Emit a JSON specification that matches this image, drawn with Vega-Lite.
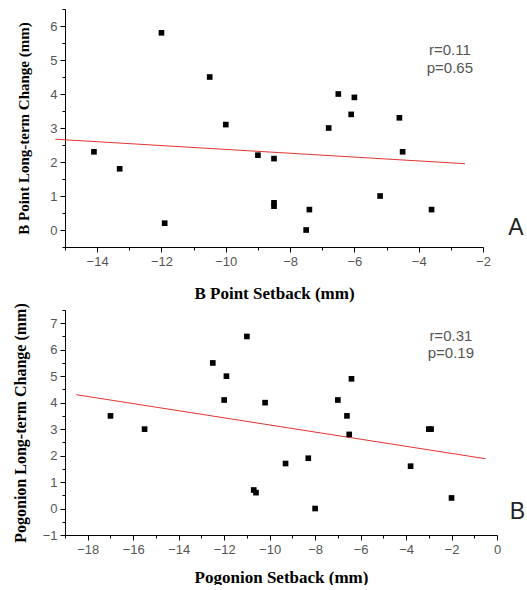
{
  "$schema": "https://vega.github.io/schema/vega-lite/v6.json",
  "padding": {"left": 12, "top": 3, "right": 0, "bottom": 0},
  "background": "white",
  "bounds": "flush",
  "spacing": 63,
  "config": {
    "view": {"stroke": null},
    "axis": {
      "grid": false,
      "domainColor": "black",
      "tickColor": "black",
      "labelColor": "#555555",
      "labelFont": "Liberation Sans",
      "labelFontSize": 13,
      "labelPadding": 3,
      "labelFlush": false,
      "titleFont": "Liberation Serif",
      "titleFontWeight": "bold",
      "titleColor": "black"
    }
  },
  "datasets": {
    "a": [
      {"setback": -14.1, "change": 2.3},
      {"setback": -13.3, "change": 1.8},
      {"setback": -12.0, "change": 5.8},
      {"setback": -11.9, "change": 0.2},
      {"setback": -10.5, "change": 4.5},
      {"setback": -10.0, "change": 3.1},
      {"setback": -9.0, "change": 2.2},
      {"setback": -8.5, "change": 2.1},
      {"setback": -8.5, "change": 0.8},
      {"setback": -8.5, "change": 0.7},
      {"setback": -7.5, "change": 0.0},
      {"setback": -7.4, "change": 0.6},
      {"setback": -6.8, "change": 3.0},
      {"setback": -6.5, "change": 4.0},
      {"setback": -6.1, "change": 3.4},
      {"setback": -6.0, "change": 3.9},
      {"setback": -5.2, "change": 1.0},
      {"setback": -4.6, "change": 3.3},
      {"setback": -4.5, "change": 2.3},
      {"setback": -3.6, "change": 0.6}
    ],
    "a_fit": [
      {"setback": -15.3, "change": 2.67},
      {"setback": -2.56, "change": 1.95}
    ],
    "b": [
      {"setback": -17.0, "change": 3.5},
      {"setback": -15.5, "change": 3.0},
      {"setback": -12.5, "change": 5.5},
      {"setback": -12.0, "change": 4.1},
      {"setback": -11.9, "change": 5.0},
      {"setback": -11.0, "change": 6.5},
      {"setback": -10.2, "change": 4.0},
      {"setback": -10.7, "change": 0.7},
      {"setback": -10.6, "change": 0.6},
      {"setback": -9.3, "change": 1.7},
      {"setback": -8.3, "change": 1.9},
      {"setback": -8.0, "change": 0.0},
      {"setback": -7.0, "change": 4.1},
      {"setback": -6.6, "change": 3.5},
      {"setback": -6.4, "change": 4.9},
      {"setback": -6.5, "change": 2.8},
      {"setback": -3.8, "change": 1.6},
      {"setback": -3.0, "change": 3.0},
      {"setback": -2.9, "change": 3.0},
      {"setback": -2.0, "change": 0.4}
    ],
    "b_fit": [
      {"setback": -18.5, "change": 4.3},
      {"setback": -0.5, "change": 1.88}
    ]
  },
  "vconcat": [
    {
      "width": 418,
      "height": 238,
      "layer": [
        {
          "data": {"name": "a_fit"},
          "mark": {"type": "line", "color": "#e0352f", "strokeWidth": 1},
          "encoding": {
            "x": {
              "field": "setback", "type": "quantitative",
              "scale": {"domain": [-15, -2], "nice": false, "zero": false},
              "axis": {
                "title": "B Point Setback (mm)",
                "titleFontSize": 17,
                "titlePadding": 17,
                "labelOverlap": false,
                "tickCount": 100,
                "values": [-15, -14, -13, -12, -11, -10, -9, -8, -7, -6, -5, -4, -3, -2],
                "labelExpr": "datum.value % 2 === 0 ? format(datum.value, 'd') : ''",
                "tickSize": {"condition": {"test": "datum.value % 2 === 0", "value": 5}, "value": 3}
              }
            },
            "y": {
              "field": "change", "type": "quantitative",
              "scale": {"domain": [-0.5, 6.5], "nice": false, "zero": false},
              "axis": {
                "title": "B Point Long-term Change (mm)",
                "titleFontSize": 15,
                "titlePadding": 18,
                "labelOverlap": false,
                "tickCount": 100,
                "values": [-0.5, 0, 0.5, 1, 1.5, 2, 2.5, 3, 3.5, 4, 4.5, 5, 5.5, 6, 6.5],
                "labelExpr": "datum.value % 1 === 0 ? format(datum.value, 'd') : ''",
                "tickSize": {"condition": {"test": "datum.value % 1 === 0", "value": 5}, "value": 3}
              }
            }
          }
        },
        {
          "data": {"name": "a"},
          "mark": {"type": "square", "color": "black", "opacity": 1, "size": 32},
          "encoding": {
            "x": {"field": "setback", "type": "quantitative"},
            "y": {"field": "change", "type": "quantitative"}
          }
        },
        {
          "data": {"values": [{"label": "r=0.11\np=0.65"}]},
          "mark": {"type": "text", "font": "Liberation Sans", "fontSize": 15, "color": "#555555", "lineBreak": "\n", "lineHeight": 17.6, "align": "center", "baseline": "middle"},
          "encoding": {
            "x": {"datum": -3.03, "type": "quantitative"},
            "y": {"datum": 5.29, "type": "quantitative"},
            "text": {"field": "label"}
          }
        },
        {
          "data": {"values": [{"label": "A"}]},
          "mark": {"type": "text", "font": "Liberation Sans", "fontSize": 23, "color": "#222222", "align": "center", "baseline": "middle"},
          "encoding": {
            "x": {"datum": -0.98, "type": "quantitative"},
            "y": {"datum": 0.06, "type": "quantitative"},
            "text": {"field": "label"}
          }
        }
      ]
    },
    {
      "width": 432,
      "height": 225,
      "layer": [
        {
          "data": {"name": "b_fit"},
          "mark": {"type": "line", "color": "#e0352f", "strokeWidth": 1},
          "encoding": {
            "x": {
              "field": "setback", "type": "quantitative",
              "scale": {"domain": [-19, 0], "nice": false, "zero": false},
              "axis": {
                "title": "Pogonion Setback (mm)",
                "titleFontSize": 17,
                "titlePadding": 13,
                "labelOverlap": false,
                "tickCount": 100,
                "values": [-19, -18, -17, -16, -15, -14, -13, -12, -11, -10, -9, -8, -7, -6, -5, -4, -3, -2, -1, 0],
                "labelExpr": "datum.value % 2 === 0 ? format(datum.value, 'd') : ''",
                "tickSize": {"condition": {"test": "datum.value % 2 === 0", "value": 5}, "value": 3}
              }
            },
            "y": {
              "field": "change", "type": "quantitative",
              "scale": {"domain": [-1, 7.5], "nice": false, "zero": false},
              "axis": {
                "title": "Pogonion Long-term Change (mm)",
                "titleFontSize": 16,
                "titlePadding": 14,
                "labelOverlap": false,
                "tickCount": 100,
                "values": [-1, -0.5, 0, 0.5, 1, 1.5, 2, 2.5, 3, 3.5, 4, 4.5, 5, 5.5, 6, 6.5, 7, 7.5],
                "labelExpr": "datum.value % 1 === 0 ? format(datum.value, 'd') : ''",
                "tickSize": {"condition": {"test": "datum.value % 1 === 0", "value": 5}, "value": 3}
              }
            }
          }
        },
        {
          "data": {"name": "b"},
          "mark": {"type": "square", "color": "black", "opacity": 1, "size": 32},
          "encoding": {
            "x": {"field": "setback", "type": "quantitative"},
            "y": {"field": "change", "type": "quantitative"}
          }
        },
        {
          "data": {"values": [{"label": "r=0.31\np=0.19"}]},
          "mark": {"type": "text", "font": "Liberation Sans", "fontSize": 15, "color": "#555555", "lineBreak": "\n", "lineHeight": 17.3, "align": "center", "baseline": "middle"},
          "encoding": {
            "x": {"datum": -2.03, "type": "quantitative"},
            "y": {"datum": 6.53, "type": "quantitative"},
            "text": {"field": "label"}
          }
        },
        {
          "data": {"values": [{"label": "B"}]},
          "mark": {"type": "text", "font": "Liberation Sans", "fontSize": 23, "color": "#222222", "align": "center", "baseline": "middle"},
          "encoding": {
            "x": {"datum": 0.9, "type": "quantitative"},
            "y": {"datum": -0.13, "type": "quantitative"},
            "text": {"field": "label"}
          }
        }
      ]
    }
  ]
}
